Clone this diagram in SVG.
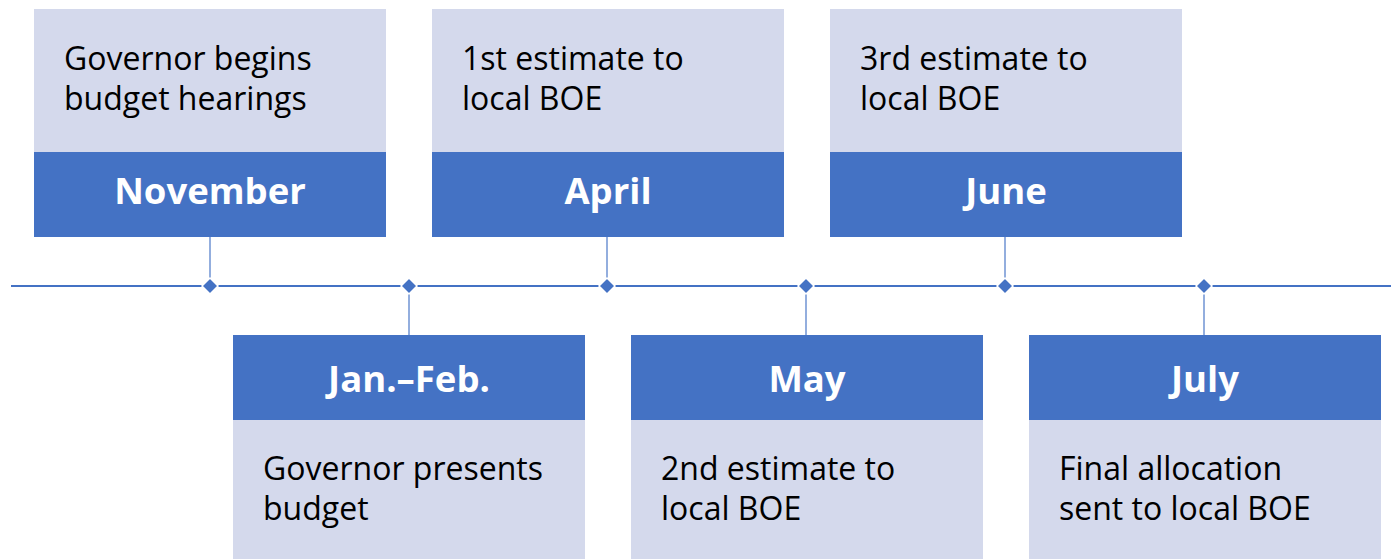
<svg xmlns="http://www.w3.org/2000/svg" width="1391" height="559" viewBox="0 0 1391 559">
<style>
.lt{fill:#D4D9EC}
.dk{fill:#4472C4}
.body{font-family:"Open Sans","Liberation Sans",sans-serif;font-size:32px;fill:#000}
.hd{font-family:"Open Sans","Liberation Sans",sans-serif;font-size:36.5px;font-weight:bold;fill:#fff}
.tl{stroke:#4472C4;stroke-width:2;fill:none}
.cn{stroke:#6F93D3;stroke-width:1.5;fill:none}
.dm{fill:#4472C4;stroke:#fff;stroke-width:1.5}
</style>
<rect width="1391" height="559" fill="#fff"/>
<g id="connectors">
<line class="tl" x1="11" y1="286" x2="1391" y2="286"/>
<line class="cn" x1="210" y1="237" x2="210" y2="286"/>
<line class="cn" x1="409" y1="286" x2="409" y2="335"/>
<line class="cn" x1="607" y1="237" x2="607" y2="286"/>
<line class="cn" x1="806" y1="286" x2="806" y2="335"/>
<line class="cn" x1="1005" y1="237" x2="1005" y2="286"/>
<line class="cn" x1="1204" y1="286" x2="1204" y2="335"/>
<path class="dm" d="M210 278 L218 286 L210 294 L202 286 Z"/>
<path class="dm" d="M409 278 L417 286 L409 294 L401 286 Z"/>
<path class="dm" d="M607 278 L615 286 L607 294 L599 286 Z"/>
<path class="dm" d="M806 278 L814 286 L806 294 L798 286 Z"/>
<path class="dm" d="M1005 278 L1013 286 L1005 294 L997 286 Z"/>
<path class="dm" d="M1204 278 L1212 286 L1204 294 L1196 286 Z"/>
</g>
<g id="november">
<rect class="lt" x="34" y="9" width="352" height="143"/>
<rect class="dk" x="34" y="152" width="352" height="85"/>
<text class="body" x="64" y="70">Governor begins</text>
<text class="body" x="64" y="110">budget hearings</text>
<text class="hd" x="210" y="204" text-anchor="middle">November</text>
</g>
<g id="april">
<rect class="lt" x="432" y="9" width="352" height="143"/>
<rect class="dk" x="432" y="152" width="352" height="85"/>
<text class="body" x="462" y="70">1st estimate to</text>
<text class="body" x="462" y="110">local BOE</text>
<text class="hd" x="608" y="204" text-anchor="middle">April</text>
</g>
<g id="june">
<rect class="lt" x="830" y="9" width="352" height="143"/>
<rect class="dk" x="830" y="152" width="352" height="85"/>
<text class="body" x="860" y="70">3rd estimate to</text>
<text class="body" x="860" y="110">local BOE</text>
<text class="hd" x="1006" y="204" text-anchor="middle">June</text>
</g>
<g id="janfeb">
<rect class="dk" x="233" y="335" width="352" height="85"/>
<rect class="lt" x="233" y="420" width="352" height="139"/>
<text class="hd" x="409" y="392" text-anchor="middle">Jan.–Feb.</text>
<text class="body" x="263" y="480">Governor presents</text>
<text class="body" x="263" y="520">budget</text>
</g>
<g id="may">
<rect class="dk" x="631" y="335" width="352" height="85"/>
<rect class="lt" x="631" y="420" width="352" height="139"/>
<text class="hd" x="807" y="392" text-anchor="middle">May</text>
<text class="body" x="661" y="480">2nd estimate to</text>
<text class="body" x="661" y="520">local BOE</text>
</g>
<g id="july">
<rect class="dk" x="1029" y="335" width="352" height="85"/>
<rect class="lt" x="1029" y="420" width="352" height="139"/>
<text class="hd" x="1205" y="392" text-anchor="middle">July</text>
<text class="body" x="1059" y="480">Final allocation</text>
<text class="body" x="1059" y="520">sent to local BOE</text>
</g>
</svg>
